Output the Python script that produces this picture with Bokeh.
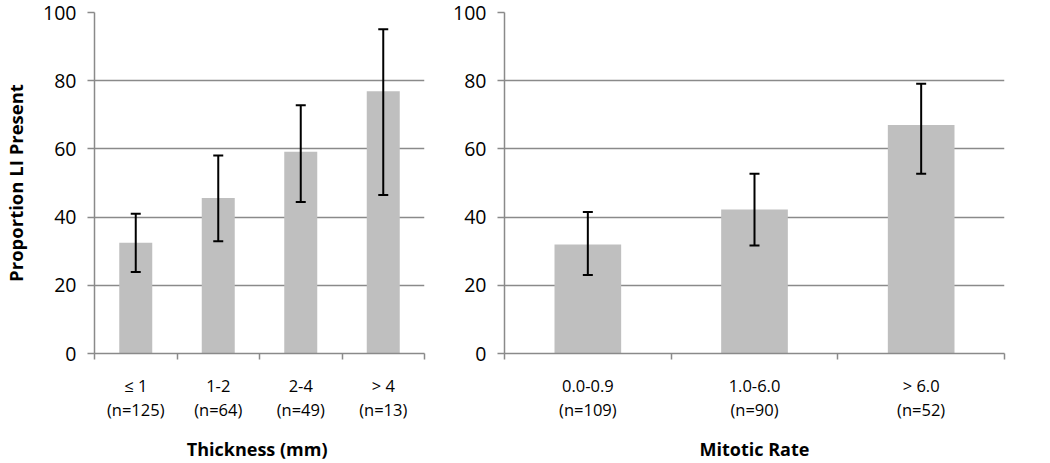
from bokeh.plotting import figure
from bokeh.layouts import row
from bokeh.models import (ColumnDataSource, Range1d, FixedTicker, LinearAxis,
                          Whisker, TeeHead)
from bokeh.embed import file_html
from bokeh.resources import INLINE

# ---- data ----
thickness_labels = ["≤ 1\n(n=125)", "1-2\n(n=64)", "2-4\n(n=49)", "> 4\n(n=13)"]
thickness_values = [32.5, 45.6, 59.2, 76.9]
thickness_lower = [23.9, 32.9, 44.4, 46.5]
thickness_upper = [41.0, 58.1, 72.8, 95.1]

mitotic_labels = ["0.0-0.9\n(n=109)", "1.0-6.0\n(n=90)", "> 6.0\n(n=52)"]
mitotic_values = [32.0, 42.2, 67.0]
mitotic_lower = [23.0, 31.7, 52.7]
mitotic_upper = [41.5, 52.7, 79.1]

y_ticks = [0, 20, 40, 60, 80, 100]

FONT = "Open Sans"
GRID = "#8a8a8a"
BAR = "#bfbfbf"


def make_panel(labels, values, lower, upper, xtitle, ytitle, width,
               border_left, border_right, frame_width):
    n = len(labels)
    centers = [i + 0.5 for i in range(n)]
    bounds = list(range(n + 1))
    src = ColumnDataSource(dict(x=centers, top=values, lo=lower, hi=upper))
    p = figure(width=width, height=447, output_backend="svg",
               toolbar_location=None, x_range=Range1d(0, n),
               y_range=Range1d(0, 100), x_axis_location=None,
               min_border_left=border_left, min_border_right=border_right,
               min_border_top=12, min_border_bottom=0,
               frame_width=frame_width, frame_height=341)
    p.outline_line_color = None
    p.background_fill_color = "white"
    p.border_fill_color = "white"

    p.vbar(x="x", top="top", width=0.4, bottom=0, source=src,
           fill_color=BAR, line_color=None)
    w = Whisker(base="x", lower="lo", upper="hi", source=src, level="overlay",
                line_color="black", line_width=2,
                upper_head=TeeHead(size=10, line_color="black", line_width=2),
                lower_head=TeeHead(size=10, line_color="black", line_width=2))
    p.add_layout(w)

    # y axis
    ya = p.yaxis[0]
    ya.ticker = FixedTicker(ticks=y_ticks)
    ya.axis_line_color = GRID
    ya.axis_line_width = 1.5
    ya.major_tick_line_color = GRID
    ya.major_tick_line_width = 1.5
    ya.major_tick_out = 7
    ya.major_tick_in = 0
    ya.minor_tick_line_color = None
    ya.major_label_standoff = 11
    ya.major_label_text_font = FONT
    ya.major_label_text_font_size = "19.5px"
    ya.major_label_text_color = "black"
    if ytitle:
        ya.axis_label = ytitle
        ya.axis_label_text_font = FONT
        ya.axis_label_text_font_style = "bold"
        ya.axis_label_text_font_size = "18.5px"
        ya.axis_label_text_color = "black"
        ya.axis_label_standoff = 12

    p.ygrid.ticker = FixedTicker(ticks=y_ticks)
    p.ygrid.grid_line_color = GRID
    p.ygrid.grid_line_width = 1.5
    p.xgrid.grid_line_color = None

    # x axis: labels at category centres, ticks at category boundaries
    la = LinearAxis(ticker=FixedTicker(ticks=centers, minor_ticks=bounds),
                    major_label_overrides={c: l for c, l in zip(centers, labels)})
    la.axis_line_color = GRID
    la.axis_line_width = 1.5
    la.major_tick_line_color = None
    la.major_tick_out = 6
    la.major_tick_in = 0
    la.minor_tick_line_color = GRID
    la.minor_tick_line_width = 1.5
    la.minor_tick_out = 6
    la.minor_tick_in = 0
    la.major_label_standoff = 14
    la.major_label_text_font = FONT
    la.major_label_text_font_size = "16.5px"
    la.major_label_text_line_height = 1.05
    la.major_label_text_color = "black"
    la.axis_label = xtitle
    la.axis_label_text_font = FONT
    la.axis_label_text_font_style = "bold"
    la.axis_label_text_font_size = "18px"
    la.axis_label_text_color = "black"
    la.axis_label_standoff = 13
    p.add_layout(la, "below")
    return p


p1 = make_panel(thickness_labels, thickness_values, thickness_lower,
                thickness_upper, "Thickness  (mm)", "Proportion LI Present",
                432, 84, 18, 330)
p2 = make_panel(mitotic_labels, mitotic_values, mitotic_lower, mitotic_upper,
                "Mitotic Rate", None, 572, 62, 10, 500)

layout = row(p1, p2)
open("out.html", "w").write(file_html(layout, INLINE))
